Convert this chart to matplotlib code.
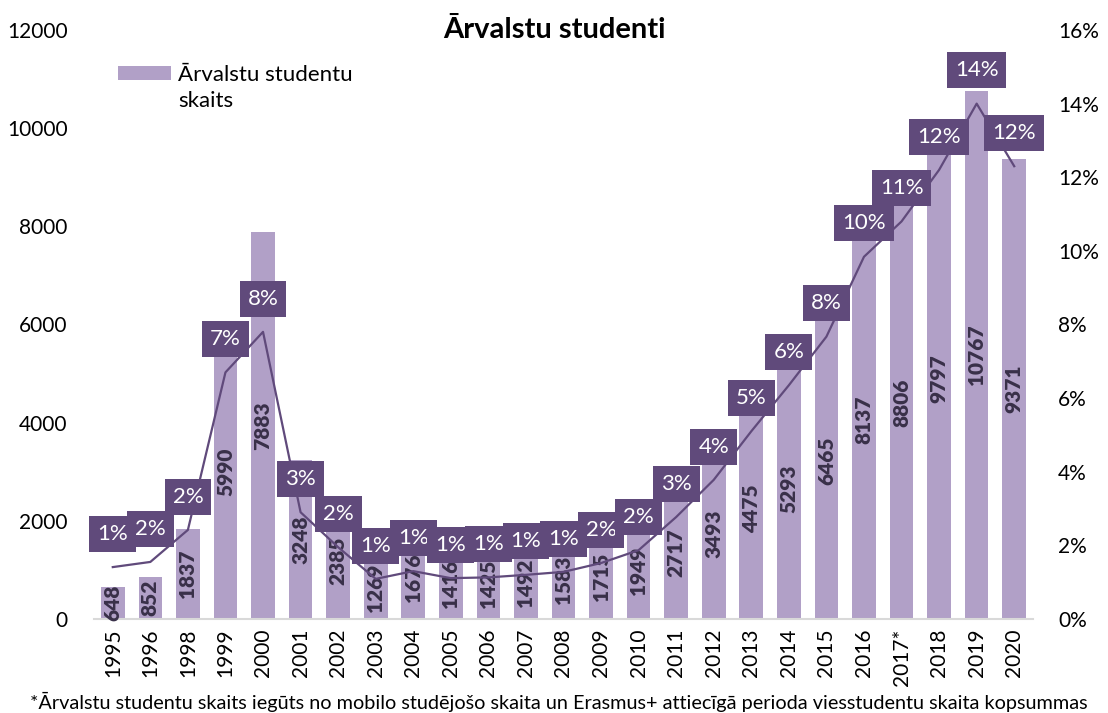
import matplotlib
matplotlib.use("Agg")
import matplotlib.pyplot as plt

plt.rcParams['font.family'] = ['Lato', 'DejaVu Sans']

# data
years = ["1995", "1996", "1998", "1999", "2000", "2001", "2002", "2003", "2004",
         "2005", "2006", "2007", "2008", "2009", "2010", "2011", "2012", "2013",
         "2014", "2015", "2016", "2017*", "2018", "2019", "2020"]
students = [648, 852, 1837, 5990, 7883, 3248, 2385, 1269, 1676, 1416, 1425, 1492,
            1583, 1715, 1949, 2717, 3493, 4475, 5293, 6465, 8137, 8806, 9797,
            10767, 9371]
share_pct = [1.41, 1.55, 2.42, 6.7, 7.8, 2.9, 1.95, 1.09, 1.3, 1.11, 1.13, 1.2,
             1.28, 1.52, 1.87, 2.77, 3.78, 5.1, 6.35, 7.67, 9.84, 10.8, 12.2,
             14.0, 12.3]

title = "Ārvalstu studenti"
legend_label = "Ārvalstu studentu\nskaits"
footnote = ("*Ārvalstu studentu skaits iegūts no mobilo studējošo skaita un Erasmus+ "
            "attiecīgā perioda viesstudentu skaita kopsummas")

bar_color = "#B1A0C7"
dark = "#604A7B"
label_color = "#393049"

fig = plt.figure(figsize=(11.08, 7.13), dpi=100)
ax = fig.add_axes([94 / 1108, 94 / 713, 939 / 1108, 589 / 713])
ax2 = ax.twinx()

x = list(range(len(years)))
bars = ax.bar(x, students, width=0.63, color=bar_color, label=legend_label, zorder=2)

for i, v in zip(x, students):
    ax.text(i, v / 2, str(v), rotation=90, ha='center', va='center',
            fontsize=15, fontweight='heavy', color=label_color, zorder=3)

ax.set_xlim(-0.5, len(years) - 0.5)
ax.set_ylim(0, 12000)
ax.set_yticks(range(0, 12001, 2000))
ax.set_xticks(x)
ax.set_xticklabels(years, rotation=90, fontsize=15)
ax.tick_params(axis='x', length=0, pad=7)
ax.tick_params(axis='y', length=0, pad=19, labelsize=15)

ax2.plot(x, share_pct, color=dark, linewidth=1.6, zorder=4)
ax2.set_ylim(0, 16)
ax2.set_yticks(range(0, 17, 2))
ax2.set_yticklabels([f"{t}%" for t in range(0, 17, 2)])
ax2.tick_params(axis='y', length=0, pad=18, labelsize=15)

for i, p in zip(x, share_pct):
    ax2.annotate(f"{round(p):d}%", (i, p), xytext=(0, 24), textcoords='offset points',
                 ha='center', va='center', fontsize=16, color='white', zorder=5 + i * 0.01,
                 bbox=dict(boxstyle='square,pad=0.36', fc=dark, ec='none'))

for a in (ax, ax2):
    for s in ('top', 'left', 'right', 'bottom'):
        a.spines[s].set_visible(False)
ax.spines['bottom'].set_visible(True)
ax.spines['bottom'].set_color('#D9D9D9')
ax.spines['bottom'].set_linewidth(1.5)

leg = fig.legend(handles=[bars], labels=[legend_label], loc='upper left',
                 bbox_to_anchor=(118 / 1108, 1 - 65 / 713), frameon=False, fontsize=16,
                 handlelength=2.4, handleheight=0.6, handletextpad=0.3,
                 borderpad=0, borderaxespad=0)
leg.get_texts()[0].set_linespacing(1.4)
# move the swatch up to the first line of the label, as in the reference
h = leg.legend_handles[0]
h.set_y(h.get_y() + 11)

fig.text(0.5, 1 - 30 / 713, title, ha='center', va='center', fontsize=21,
         fontweight='bold')
fig.text(30 / 1108, 1 / 713, footnote, ha='left', va='bottom', fontsize=14.3)

fig.savefig("out.png", dpi=100)
